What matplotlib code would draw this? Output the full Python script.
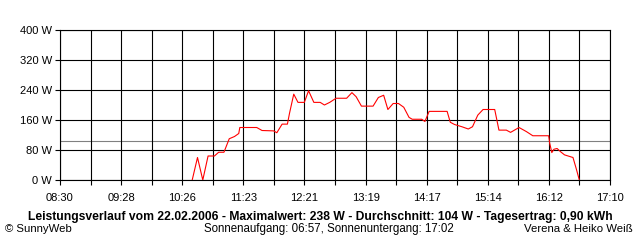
import matplotlib
matplotlib.use("Agg")
import matplotlib.pyplot as plt

plt.rcParams['font.family'] = ['Liberation Sans', 'DejaVu Sans']

# Leistung (W) ueber die Uhrzeit
times = ["10:35", "10:40", "10:45", "10:50", "10:56", "11:00", "11:05", "11:10", "11:15",
         "11:19", "11:20", "11:36", "11:41", "11:52", "11:55", "12:00", "12:05", "12:07",
         "12:11", "12:15", "12:21", "12:25", "12:30", "12:36", "12:40", "12:45", "12:51",
         "13:01", "13:06", "13:10", "13:15", "13:26", "13:31", "13:36", "13:40", "13:45",
         "13:50", "13:55", "14:00", "14:03", "14:12", "14:15", "14:19", "14:36", "14:39",
         "14:43", "14:50", "14:56", "15:00", "15:05", "15:10", "15:21", "15:25", "15:32",
         "15:36", "15:44", "15:51", "15:57", "16:12", "16:13", "16:15", "16:17", "16:20",
         "16:23", "16:27", "16:35", "16:38", "16:41"]
watts = [0, 60, 0, 64, 64, 74, 74, 110, 116,
         124, 140, 140, 132, 131, 126, 149, 149, 178,
         229, 207, 207, 238, 207, 207, 200, 207, 218,
         218, 233, 222, 197, 197, 220, 226, 188, 204,
         204, 194, 167, 162, 162, 156, 183, 183, 154,
         148, 142, 136, 142, 173, 188, 188, 133, 133,
         127, 140, 129, 118, 118, 98, 73, 82, 84,
         76, 67, 60, 31, 0]
avg = 104
xlabels = ["08:30", "09:28", "10:26", "11:23", "12:21", "13:19", "14:17", "15:14", "16:12", "17:10"]
ylabels = ["0 W", "80 W", "160 W", "240 W", "320 W", "400 W"]

def mins(s):
    h, m = s.split(":")
    return int(h) * 60 + int(m)

x = [mins(t) for t in times]
t0 = mins("08:30")
t1 = mins("17:10")
step = (t1 - t0) / 9.0

fig = plt.figure(figsize=(6.4, 2.4), dpi=100)
ax = fig.add_axes([60/640, 1-180/240, 550/640, 150/240])

ax.axhline(avg, color='#808080', lw=0.8, zorder=1)
ax.plot(x, watts, color='red', lw=0.8, zorder=3)

ax.set_xlim(t0, t1)
ax.set_ylim(0, 400)
ax.set_xticks([t0 + i*step for i in range(10)])
ax.set_xticklabels(xlabels)
ax.set_xticks([t0 + (i+0.5)*step for i in range(9)], minor=True)
ax.set_yticks(range(0, 401, 80))
ax.set_yticklabels(ylabels)
ax.grid(True, which='both', axis='x', color='black', lw=0.8)
ax.grid(True, which='major', axis='y', color='black', lw=0.8)
ax.tick_params(axis='both', which='both', length=3.6, width=0.8, direction='out',
               labelsize=8, colors='black')
ax.tick_params(axis='x', pad=6)
ax.tick_params(axis='y', pad=2)
for s in ax.spines.values():
    s.set_linewidth(0.8)
    s.set_color('black')

fig.text(320/640, 1-217/240, "Leistungsverlauf vom 22.02.2006 - Maximalwert: 238 W - Durchschnitt: 104 W - Tagesertrag: 0,90 kWh",
         ha='center', va='center', fontsize=8.7, fontweight='bold')
fig.text(5/640, 1-229/240, "\u00a9 SunnyWeb", ha='left', va='center', fontsize=8.2)
fig.text(329/640, 1-229/240, "Sonnenaufgang: 06:57, Sonnenuntergang: 17:02", ha='center', va='center', fontsize=8.3)
fig.text(633/640, 1-229/240, "Verena & Heiko Wei\u00df", ha='right', va='center', fontsize=8.2)

plt.savefig("out.png", dpi=100)
